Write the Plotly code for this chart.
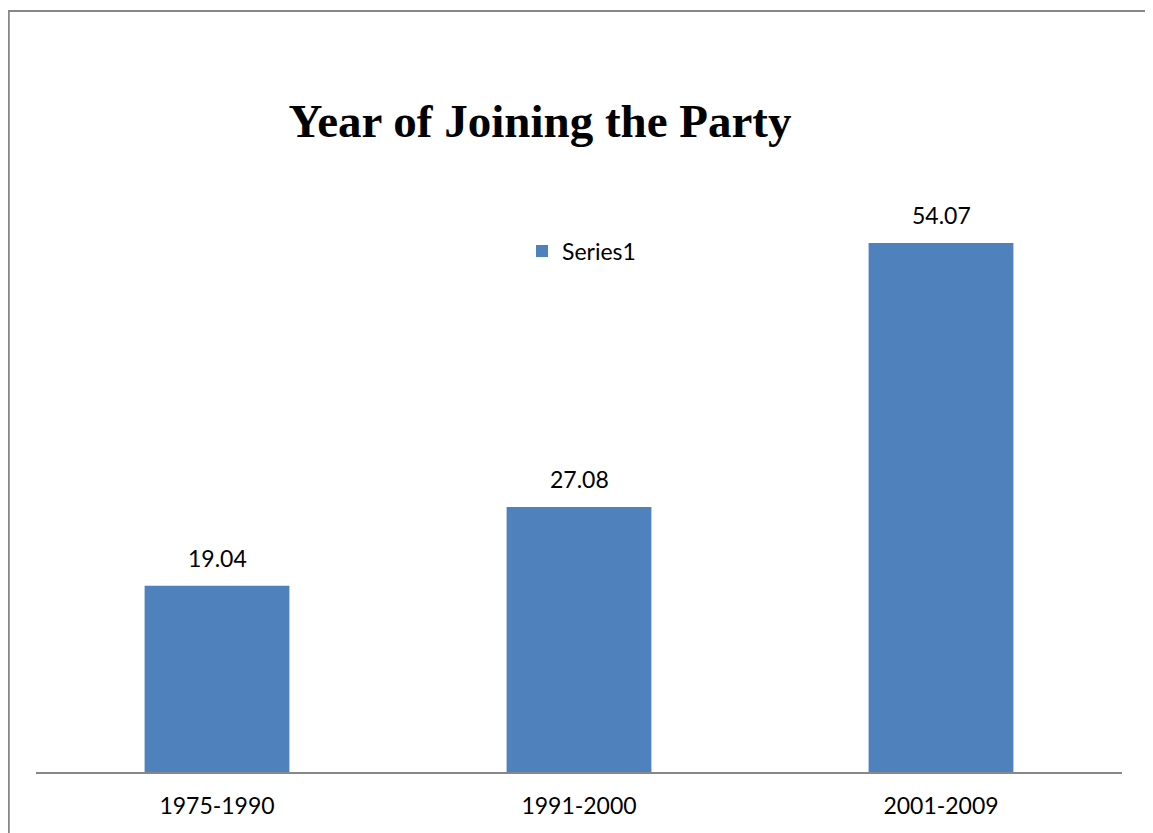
import plotly.graph_objects as go

categories = ["1975-1990", "1991-2000", "2001-2009"]
values = [19.04, 27.08, 54.07]
labels = ["19.04", "27.08", "54.07"]
series_name = "Series1"

BAR = "#4F81BD"
FONT = "Lato, Carlito, Calibri, sans-serif"
# page has an 8px body margin, so the figure is 8px smaller on each axis
W, H = 1145, 825
L, R, T, B = 28, 31, 177, 61
pw = W - L - R
ph = H - T - B

def px_x(px):
    return (px - L) / pw

def px_y(py):
    return (H - B - py) / ph

fig = go.Figure()
fig.add_trace(go.Bar(
    x=categories, y=values, name=series_name,
    marker=dict(color=BAR, line=dict(width=0)),
    width=0.4, showlegend=True,
))
for c, v, t in zip(categories, values, labels):
    fig.add_annotation(x=c, y=v, text=t, showarrow=False, yshift=28,
                       font=dict(family=FONT, size=23, color="#000"))

fig.add_shape(type="rect", xref="paper", yref="paper",
              x0=px_x(0.8), x1=px_x(1143), y0=px_y(900), y1=px_y(3),
              line=dict(color="#888888", width=2), fillcolor="rgba(0,0,0,0)", layer="below")

fig.update_layout(
    width=W, height=H,
    margin=dict(l=L, r=R, t=T, b=B, pad=0),
    paper_bgcolor="white", plot_bgcolor="white",
    title=dict(text="<b>Year of Joining the Party</b>", xref="paper", x=px_x(532), xanchor="center",
               yref="container", y=1 - 113 / H, yanchor="middle",
               font=dict(family="Liberation Serif, Times New Roman, serif", size=47, color="#000")),
    legend=dict(orientation="h", x=px_x(514), y=px_y(243), xanchor="left", yanchor="middle",
                font=dict(family=FONT, size=23, color="#000"),
                bgcolor="rgba(0,0,0,0)"),
    showlegend=True,
    xaxis=dict(range=[-0.5, 2.5], showline=True, linecolor="#878787", linewidth=2,
               ticks="", showgrid=False, zeroline=False, ticklabelstandoff=12,
               tickfont=dict(family=FONT, size=23, color="#000")),
    yaxis=dict(range=[0, 60], showgrid=False, zeroline=False, showticklabels=False,
               showline=False, ticks=""),
    bargap=0.6,
)

fig.write_html("out.html")
